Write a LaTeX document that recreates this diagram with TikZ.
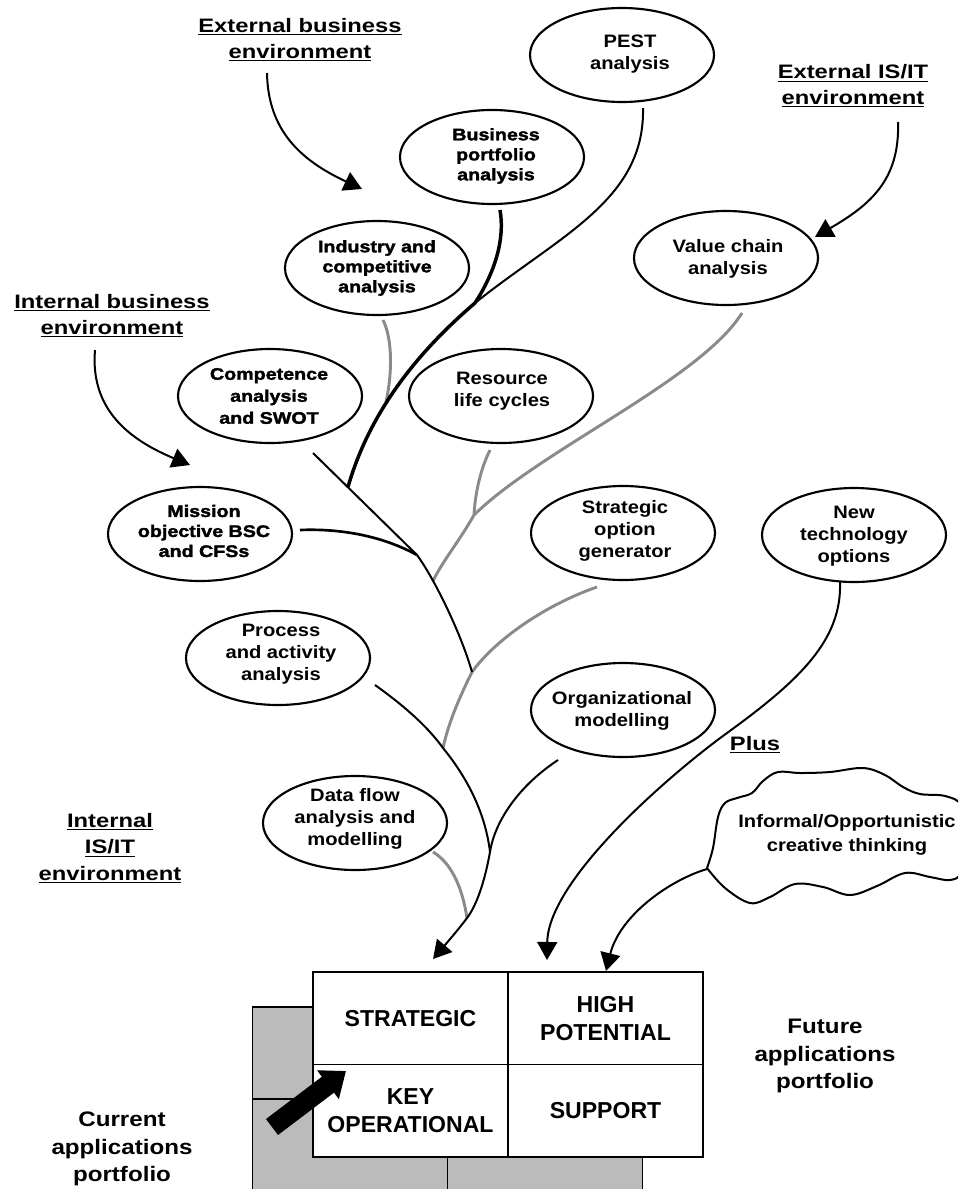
\documentclass[tikz,border=0pt]{standalone}
\usepackage{fontspec}
\usetikzlibrary{arrows.meta,shapes.geometric}
\setmainfont{Liberation Sans}
\newfontfamily\hdrfont[FakeStretch=1.22]{Liberation Sans}
\newfontfamily\lblfont[FakeStretch=1.12]{Liberation Sans}
\newfontfamily\hvyfont[FakeStretch=1.18,FakeBold=2]{Liberation Sans}
\newfontfamily\gridfont{Liberation Sans}
\newfontfamily\portfont[FakeStretch=1.15]{Liberation Sans}
\definecolor{branchgray}{RGB}{138,138,138}
\definecolor{portgray}{RGB}{187,187,187}
\tikzset{
  oval/.style={draw, ellipse, line width=1.6pt, minimum width=138pt, minimum height=70.5pt, inner sep=0pt},
  hdr/.style={align=center, inner sep=0pt, font=\hdrfont\bfseries\fontsize{14.6}{19.5}\selectfont},
  lbl/.style={align=center, inner sep=0pt, font=\lblfont\bfseries\fontsize{13.5}{16.5}\selectfont},
  hvy/.style={align=center, inner sep=0pt, font=\hvyfont\bfseries\fontsize{12.5}{15}\selectfont},
  cell/.style={draw, fill=white, line width=1.2pt, minimum width=146.25pt, minimum height=69.4pt,
    inner sep=0pt, align=center, font=\gridfont\bfseries\fontsize{17.3}{21}\selectfont},
  backcell/.style={draw, fill=portgray, line width=1.2pt, minimum width=146.25pt, minimum height=69.4pt, inner sep=0pt},
  port/.style={align=center, inner sep=0pt, font=\portfont\bfseries\fontsize{15.75}{20.6}\selectfont},
  blk/.style={line width=1.5pt},
  thk/.style={line width=2.6pt},
  gry/.style={draw=branchgray, line width=2.2pt},
  feed/.style={line width=1.5pt, -{Triangle[length=13.5pt,width=15pt]}},
  bigarrow/.style={line width=15pt, -{Triangle[length=17pt,width=26pt]}}
}
\begin{document}
\begin{tikzpicture}[x=0.75pt,y=-0.75pt]
\useasboundingbox (0,0) rectangle (958,1189);
\clip (0,0) rectangle (958,1189);

% environment headings
\node[hdr] (extbus) at (300,40) {\underline{External business}\\\underline{environment}};
\node[hdr] (extit) at (853,86) {\underline{External IS/IT}\\\underline{environment}};
\node[hdr] (intbus) at (112,316) {\underline{Internal business}\\\underline{environment}};
\node[hdr, font=\hdrfont\bfseries\fontsize{14.6}{19.9}\selectfont] (intit) at (110,848) {\underline{Internal}\\\underline{IS/IT}\\\underline{environment}};
\node[hdr] (plus) at (755,745) {\underline{Plus}};

% analysis techniques
\node[oval] (pest) at (622,55) {};
\node[lbl] (pest-t) at (630,54) {PEST\\analysis};
\node[oval] (bport) at (492,157) {};
\node[hvy] (bport-t) at (496,156) {Business\\portfolio\\analysis};
\node[oval] (valc) at (726,258) {};
\node[lbl] (valc-t) at (728,259) {Value chain\\analysis};
\node[oval] (indu) at (377,268) {};
\node[hvy] (indu-t) at (377,268) {Industry and\\competitive\\analysis};
\node[oval] (comp) at (270,396) {};
\node[hvy, font=\hvyfont\bfseries\fontsize{12.5}{16.5}\selectfont] (comp-t) at (269,396) {Competence\\analysis\\and SWOT};
\node[oval] (reso) at (501,396) {};
\node[lbl] (reso-t) at (502,391) {Resource\\life cycles};
\node[oval] (miss) at (200,534) {};
\node[hvy] (miss-t) at (204,531) {Mission\\objective BSC\\and CFSs};
\node[oval] (stro) at (623,533) {};
\node[lbl] (stro-t) at (625,531) {Strategic\\option\\generator};
\node[oval] (newt) at (854,535) {};
\node[lbl] (newt-t) at (854,536) {New\\technology\\options};
\node[oval] (proc) at (278,658) {};
\node[lbl] (proc-t) at (281,654) {Process\\and activity\\analysis};
\node[oval] (orgm) at (623,710) {};
\node[lbl] (orgm-t) at (622,711) {Organizational\\modelling};
\node[oval] (dflo) at (355,823) {};
\node[lbl] (dflo-t) at (355,819) {Data flow\\analysis and\\modelling};

% opportunistic thinking cloud
\draw[line width=1.5pt] plot[smooth, tension=0.6] coordinates {(707,868) (713,848) (718,817) (725,803) (737,798) (752,793) (763,781) (778,772) (800,773) (830,772) (863,768) (885,775) (903,787) (920,794) (945,796) (962,806) (972,840) (962,872) (950,880) (930,877) (905,873) (877,886) (850,895) (823,887) (795,884) (770,897) (750,903) (725,888) (707,868)};
\node[lbl, font=\lblfont\bfseries\fontsize{13.5}{18.5}\selectfont] (cloud-t) at (847,835) {Informal/Opportunistic\\creative thinking};
\coordinate (cloud-out) at (707,869);

% branch points of the tree
\coordinate (pest-o) at (643,108);
\coordinate (bport-o) at (500,210);
\coordinate (indu-o) at (383,320);
\coordinate (reso-o) at (490,450);
\coordinate (valc-o) at (742,313);
\coordinate (comp-o) at (313,453);
\coordinate (miss-o) at (300,530);
\coordinate (stro-o) at (597,587);
\coordinate (newt-o) at (840,582);
\coordinate (proc-o) at (375,685);
\coordinate (orgm-o) at (558,760);
\coordinate (dflo-o) at (433,852);
\coordinate (jA) at (475,303);
\coordinate (jB) at (348,487);
\coordinate (jC) at (386,402);
\coordinate (jD) at (417,555);
\coordinate (jE) at (433,581);
\coordinate (jF) at (474,515);
\coordinate (jG) at (472,672);
\coordinate (jH) at (443,748);
\coordinate (jI) at (490,852);
\coordinate (jJ) at (467,918);
\coordinate (mid-v) at (727,733);

% entry points on the applications portfolio
\coordinate (strat-in) at (433,959);
\coordinate (hp-in) at (547,960);
\coordinate (hp-in2) at (606,971);

% gray branches
\draw[gry] (indu-o) .. controls (393,340) and (392,375) .. (jC);
\draw[gry] (reso-o) .. controls (480,470) and (475,495) .. (jF);
\draw[gry] (valc-o) .. controls (700,380) and (540,450) .. (jF);
\draw[gry] (jF) .. controls (460,540) and (442,562) .. (jE);
\draw[gry] (stro-o) .. controls (545,605) and (495,640) .. (jG);
\draw[gry] (jG) .. controls (458,700) and (448,725) .. (jH);
\draw[gry] (dflo-o) .. controls (450,862) and (462,885) .. (jJ);

% black branches
\draw[blk] (pest-o) .. controls (645,200) and (560,235) .. (jA);
\draw[thk] (bport-o) .. controls (506,245) and (490,280) .. (jA)
  .. controls (420,350) and (370,410) .. (jB);
\draw[blk] (comp-o) -- (jD) .. controls (432,575) and (460,630) .. (jG);
\draw[line width=2pt] (miss-o) .. controls (350,528) and (390,540) .. (jD);
\draw[blk] (proc-o) .. controls (410,710) and (430,730) .. (jH)
  .. controls (465,775) and (485,810) .. (jI);
\draw[feed] (orgm-o) .. controls (520,785) and (495,820) .. (jI)
  .. controls (485,880) and (477,905) .. (jJ)
  .. controls (458,930) and (445,945) .. (strat-in);
\draw[feed] (newt-o) .. controls (842,640) and (800,680) .. (mid-v)
  .. controls (669,775) and (548,880) .. (hp-in);
\draw[feed] (cloud-out) .. controls (670,880) and (620,915) .. (hp-in2);

% environment arrows
\coordinate (extbus-o) at (267,73);
\coordinate (extbus-i) at (362,189);
\coordinate (intbus-o) at (95,350);
\coordinate (intbus-i) at (190,465);
\coordinate (extit-o) at (898,122);
\coordinate (extit-i) at (815,237);
\draw[feed] (extbus-o) .. controls (268,130) and (300,160) .. (extbus-i);
\draw[feed] (intbus-o) .. controls (90,410) and (130,440) .. (intbus-i);
\draw[feed] (extit-o) .. controls (900,180) and (870,205) .. (extit-i);

% current portfolio (behind) and future portfolio grid
\node[backcell] (cur-tl) at (350,1053) {};
\node[backcell] (cur-tr) at (545,1053) {};
\node[backcell] (cur-bl) at (350,1145.5) {};
\node[backcell] (cur-br) at (545,1145.5) {};
\node[cell] (strat) at (410.5,1018.25) {STRATEGIC};
\node[cell] (highp) at (605.5,1018.25) {HIGH\\POTENTIAL};
\node[cell] (keyop) at (410.5,1110.75) {KEY\\OPERATIONAL};
\node[cell] (supp) at (605.5,1110.75) {SUPPORT};

\coordinate (ko-tail) at (272,1127);
\coordinate (ko-tip) at (346,1071);
\draw[bigarrow] (ko-tail) -- (ko-tip);

\node[port] (curport) at (122,1149) {Current\\applications\\portfolio};
\node[port] (futport) at (825,1056) {Future\\applications\\portfolio};
\end{tikzpicture}
\end{document}
